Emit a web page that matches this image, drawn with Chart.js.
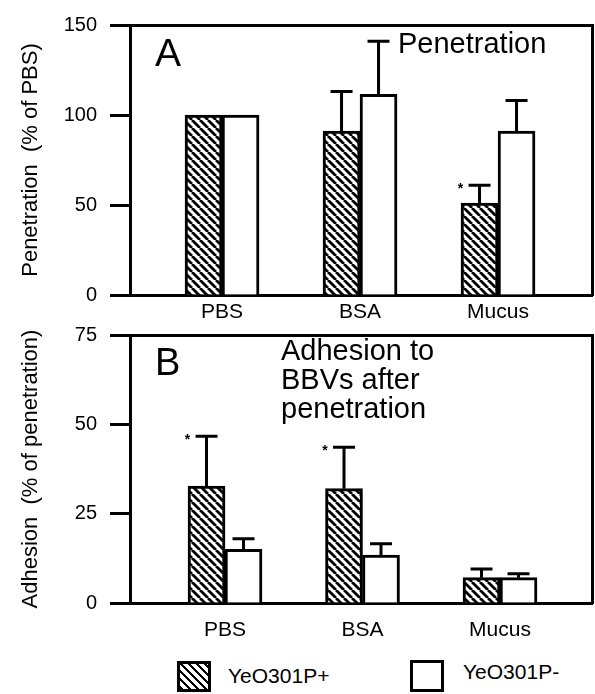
<!DOCTYPE html>
<html><head><meta charset="utf-8">
<script src="https://cdn.jsdelivr.net/npm/chart.js@4/dist/chart.umd.min.js"></script>
<style>
html,body{margin:0;padding:0;background:#fff;}
body{width:595px;height:694px;position:relative;overflow:hidden;font-family:"Liberation Sans",Arial,sans-serif;color:#000;}
canvas{position:absolute;left:0;}
#ca{top:0;}
#cb{top:310px;}
.t{position:absolute;white-space:nowrap;line-height:1;}
.box{position:absolute;box-sizing:border-box;border:3px solid #000;background:#fff;}
</style></head><body>
<canvas id="ca" width="595" height="330"></canvas>
<canvas id="cb" width="595" height="340"></canvas>

<div class="t" style="left:155px;top:33px;font-size:39px;">A</div>
<div class="t" style="left:398px;top:29px;font-size:29px;">Penetration</div>
<div class="t" style="left:155px;top:343px;font-size:38px;">B</div>
<div class="t" style="left:281px;top:336px;font-size:29px;line-height:29px;">Adhesion to<br>BBVs after<br>penetration</div>

<div class="box" style="left:177px;top:661px;width:34px;height:31px;background:repeating-linear-gradient(45deg,#000 0 2.8px,#fff 2.8px 5.66px);"></div>
<div class="t" style="left:228px;top:665px;font-size:21px;">YeO301P+</div>
<div class="box" style="left:410px;top:660px;width:34px;height:32px;"></div>
<div class="t" style="left:463px;top:661px;font-size:21px;">YeO301P-</div>

<script>
// ---- data ----
const categories = ['PBS', 'BSA', 'Mucus'];
const seriesNames = ['YeO301P+', 'YeO301P-'];

const penPlus      = [100, 91, 51];
const penPlusErr   = [0, 22, 10];
const penMinus     = [100, 111.5, 91];
const penMinusErr  = [0, 29.5, 17];
const penSig       = [false, false, true];
const penTicks     = [0, 50, 100, 150];

const adhPlus      = [32.7, 32, 7.1];
const adhPlusErr   = [14, 11.6, 2.4];
const adhMinus     = [15, 13.4, 7.1];
const adhMinusErr  = [3, 3.2, 1.1];
const adhSig       = [true, true, false];
const adhTicks     = [0, 25, 50, 75];

const FAMILY = '"Liberation Sans", Arial, sans-serif';

// hatch pattern
function makeHatch(ctx) {
  const c = document.createElement('canvas');
  c.width = 8; c.height = 8;
  const g = c.getContext('2d');
  g.fillStyle = '#fff'; g.fillRect(0, 0, 8, 8);
  g.strokeStyle = '#000'; g.lineWidth = 2.8;
  g.beginPath();
  for (let k = -1; k <= 1; k++) { g.moveTo(k * 8, 0); g.lineTo(k * 8 + 8, 8); }
  g.stroke();
  return ctx.createPattern(c, 'repeat');
}

const errorBars = {
  id: 'errorBars',
  afterDatasetsDraw(chart) {
    const ctx = chart.ctx;
    const y = chart.scales.y;
    chart.data.datasets.forEach((ds, di) => {
      const meta = chart.getDatasetMeta(di);
      meta.data.forEach((bar, i) => {
        const err = ds.errors[i];
        if (!err) return;
        const v = ds.data[i].y;
        const yTop = y.getPixelForValue(v + err);
        ctx.save();
        ctx.strokeStyle = '#000'; ctx.lineWidth = 3; ctx.lineCap = 'butt';
        ctx.beginPath();
        ctx.moveTo(bar.x, bar.y); ctx.lineTo(bar.x, yTop - 1.5);
        ctx.moveTo(bar.x - 11, yTop); ctx.lineTo(bar.x + 11, yTop);
        ctx.stroke();
        if (ds.sig && ds.sig[i]) {
          ctx.fillStyle = '#000';
          ctx.font = 'bold 14px ' + FAMILY;
          ctx.textAlign = 'center'; ctx.textBaseline = 'middle';
          ctx.fillText('*', bar.x - 19, yTop + 4);
        }
        ctx.restore();
      });
    });
  }
};

function build(id, cfg) {
  const canvas = document.getElementById(id);
  const hatch = makeHatch(canvas.getContext('2d'));
  return new Chart(canvas, {
    type: 'bar',
    data: {
      datasets: [
        { label: seriesNames[0], data: cfg.plus.map((v, i) => ({ x: i, y: v })), errors: cfg.plusErr, sig: cfg.sig,
          backgroundColor: hatch, borderColor: '#000', borderWidth: 3, barThickness: 37, xAxisID: 'x', yAxisID: 'y' },
        { label: seriesNames[1], data: cfg.minus.map((v, i) => ({ x: i, y: v })), errors: cfg.minusErr,
          backgroundColor: '#fff', borderColor: '#000', borderWidth: 3, barThickness: 37, xAxisID: 'x', yAxisID: 'y' }
      ]
    },
    options: {
      responsive: false, animation: false, events: [],
      layout: { padding: { top: cfg.padTop, right: 3, left: 0, bottom: 0 } },
      plugins: { legend: { display: false }, tooltip: { enabled: false } },
      scales: {
        x: {
          type: 'linear', position: 'bottom', min: cfg.xmin, max: cfg.xmax, offset: false,
          afterBuildTicks: s => { s.ticks = categories.map((c, i) => ({ value: i })); },
          afterFit: s => { s.height = cfg.xh; },
          ticks: { callback: v => categories[v], font: { size: 21, family: FAMILY }, color: '#000', padding: cfg.xpad, autoSkip: false, maxRotation: 0 },
          grid: { display: false },
          border: { display: true, color: '#000', width: 3 }
        },
        x2: {
          type: 'linear', position: 'top', min: cfg.xmin, max: cfg.xmax,
          ticks: { display: false }, grid: { display: false },
          border: { display: true, color: '#000', width: 3 },
          afterFit: s => { s.height = 0; }
        },
        y: {
          type: 'linear', position: 'left', min: 0, max: cfg.ymax,
          afterBuildTicks: s => { s.ticks = cfg.ticks.map(v => ({ value: v })); },
          afterFit: s => { s.width = 130; },
          ticks: { font: { size: 20, family: FAMILY }, color: '#000', padding: 13 },
          grid: { drawOnChartArea: false, drawTicks: true, tickLength: 20, tickWidth: 3, tickColor: '#000' },
          border: { display: true, color: '#000', width: 3 },
          title: { display: true, text: cfg.ytitle, font: { size: 22, family: FAMILY }, color: '#000', padding: { top: 18, bottom: 0 } }
        },
        y2: {
          type: 'linear', position: 'right', min: 0, max: cfg.ymax,
          ticks: { display: false }, grid: { display: false },
          border: { display: true, color: '#000', width: 3 },
          afterFit: s => { s.width = 0; }
        }
      }
    },
    plugins: [errorBars]
  });
}

build('ca', {
  plus: penPlus, plusErr: penPlusErr, minus: penMinus, minusErr: penMinusErr, sig: penSig,
  ticks: penTicks, ymax: 150, ytitle: 'Penetration  (% of PBS)',
  xmin: -0.667, xmax: 2.681, padTop: 20, xh: 35, xpad: -3
});
build('cb', {
  plus: adhPlus, plusErr: adhPlusErr, minus: adhMinus, minusErr: adhMinusErr, sig: adhSig,
  ticks: adhTicks, ymax: 75, ytitle: 'Adhesion  (% of penetration)',
  xmin: -0.691, xmax: 2.669, padTop: 18, xh: 47, xpad: 7
});
</script>
</body></html>
